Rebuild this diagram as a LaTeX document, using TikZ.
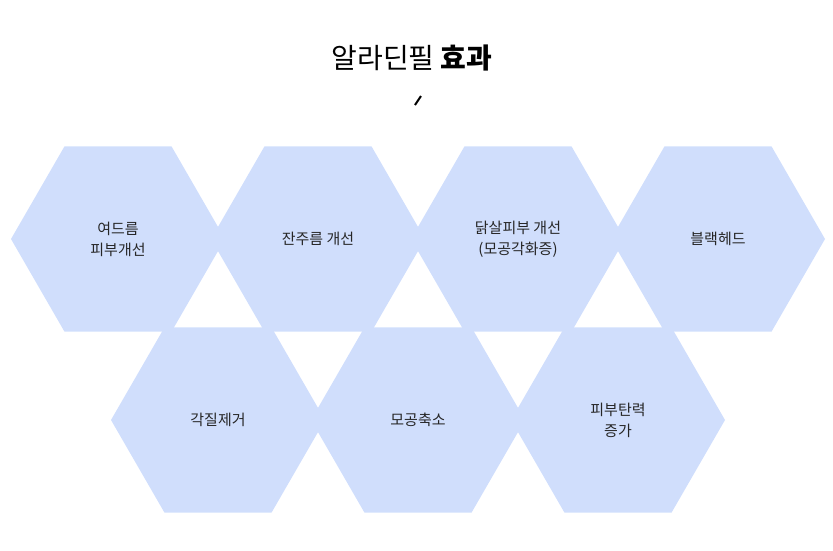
\documentclass[tikz,border=0pt]{standalone}
\usepackage{fontspec}
\setmainfont{Noto Sans CJK KR}
\newfontfamily\krb{Noto Sans CJK KR Bold}
\usetikzlibrary{shapes.geometric}
\begin{document}
\begin{tikzpicture}[x=1pt,y=-1pt,
  hexa/.style={regular polygon,regular polygon sides=6,minimum size=214pt,inner sep=0pt,fill=hexfill,draw=none,align=center,font=\fontsize{15}{21}\selectfont,text=black!85},
  ]
\definecolor{hexfill}{HTML}{D0DEFC}
\useasboundingbox (0,0) rectangle (833,550);
\node (title) at (412,58) {\fontsize{28}{32}\selectfont 알라딘필 {\bfseries 효과}};
\coordinate (t1) at (415,105);
\coordinate (t2) at (421,96);
\draw[line width=2pt] (t1) -- (t2);
\node[hexa] (h1) at (118,239) {여드름\\피부개선};
\node[hexa] (h2) at (318,239) {잔주름 개선};
\node[hexa] (h3) at (518,239) {닭살피부 개선\\(모공각화증)};
\node[hexa] (h4) at (718,239) {블랙헤드};
\node[hexa] (h5) at (218,420) {각질제거};
\node[hexa] (h6) at (418,420) {모공축소};
\node[hexa] (h7) at (618,420) {피부탄력\\증가};
\end{tikzpicture}
\end{document}
